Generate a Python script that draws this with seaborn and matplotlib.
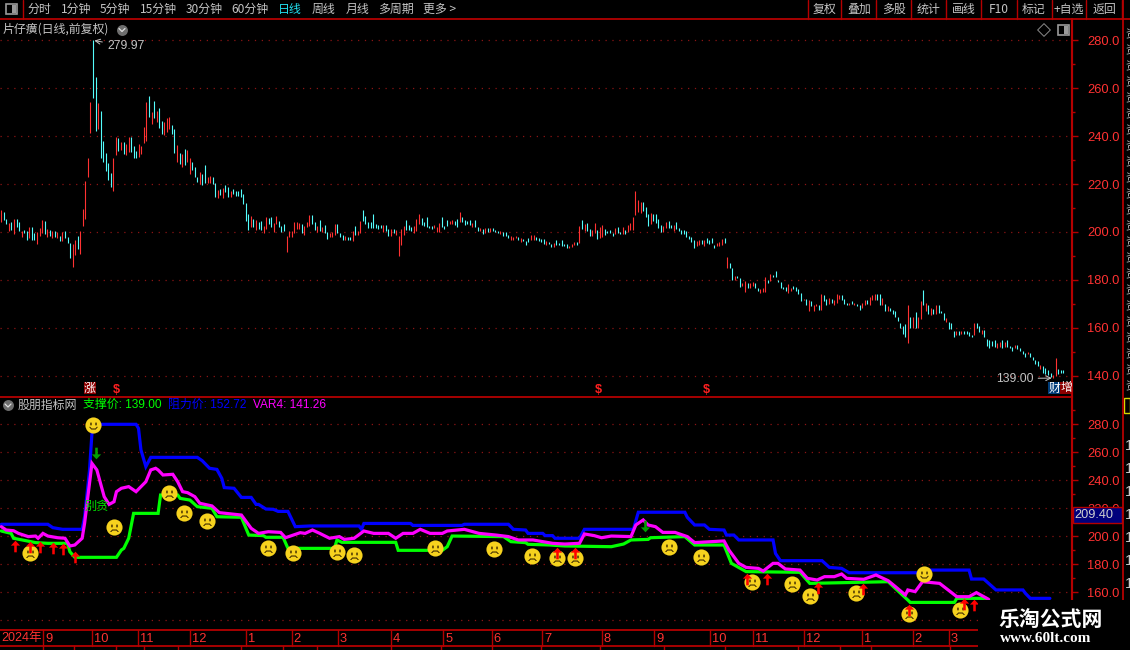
import pandas as pd
import matplotlib
matplotlib.use('Agg')
import matplotlib.pyplot as plt
import seaborn as sns
from matplotlib.path import Path
from matplotlib.patches import Rectangle
from matplotlib.ticker import MultipleLocator, FormatStrFormatter

# Daily bars (high, low, 1 = red day)
bar_high = [
    209, 208.5, 205.5, 203.6, 204, 205.4, 205.5, 204, 200.5, 201,
    200.5, 202, 202.2, 199.5, 199.8, 201.5, 205, 204.7, 201.4, 201,
    200.3, 200.5, 199.8, 198.5, 200.1, 200.5, 198, 195.5, 195, 196.8,
    198.5, 200.5, 209.7, 221.2, 230.7, 254.2, 279.97, 264.5, 253.7, 250.3,
    238, 232.8, 228.8, 224.5, 230.9, 239.6, 239.2, 237.4, 237.4, 236.7,
    239.6, 239.6, 236, 233.8, 236.7, 235.7, 243.8, 254.2, 256.7, 250,
    254.7, 250.6, 251.6, 246.4, 245.7, 247.4, 248, 244.6, 242.8, 236.1,
    232.8, 232.4, 234.6, 234.2, 230.9, 229.2, 227.2, 223, 224.9, 224.2,
    227.8, 223, 223.3, 222.8, 220.3, 217.5, 218, 218.2, 219.6, 218.6,
    217.2, 217.9, 217.1, 217.1, 217.9, 215.8, 212, 207.5, 206.8, 205.4,
    205, 204.3, 204.7, 202.5, 206.4, 205.8, 206.1, 203.6, 206.8, 204.7,
    202.6, 203.3, 198.5, 200.6, 200.6, 204.3, 204.3, 203.8, 203.5, 202.6,
    204.3, 207.2, 207.2, 204.3, 202.6, 205.1, 202.2, 203.1, 200.1, 199.6,
    199.9, 203.5, 203.5, 199.7, 198.9, 198.5, 198.1, 198.1, 200.6, 202.6,
    200.6, 204.7, 209.3, 206.8, 204.3, 204.3, 207.7, 203.5, 203.1, 203.1,
    203.1, 203.1, 201.4, 201.4, 201.4, 201, 198.5, 201.4, 202.6, 205.1,
    203.1, 202.2, 202.6, 205.6, 207.5, 206, 204.3, 206.4, 202.6,
    202.6, 203, 202.2, 203.6, 206.4, 202.6, 205.1, 204.7, 205.1, 204.7,
    205.6, 208.5, 206.4, 205.1, 204.7, 205.1, 203.9, 205.1, 202.2, 201.8,
    201.4, 201.8, 201.8, 201.8, 201.8, 201, 200.6, 200.6, 200.1, 200.1,
    198.9, 198.5, 198.1, 198.5, 198.1, 197.6, 197.2, 196.4, 197.6, 198.9,
    198.9, 198.1, 197.6, 197.2, 197.2, 196.4, 196, 195.1, 195.5, 196.8,
    195.5, 196.8, 195.1, 195.1, 194.3, 195.1, 196, 196, 202.6, 205.1,
    203.5, 203.9, 201.4, 201, 203.9, 201, 202.2, 203, 201.4, 200.6,
    201, 199.7, 201.8, 202.2, 200.1, 202.2, 201, 203, 203.9, 206.4,
    217.3, 213.5, 212.7, 212.7, 210.6, 207.7, 208.1, 207.7, 207.7, 205.6,
    203.1, 202.6, 204.3, 204.7, 203.1, 203.1, 204.3, 201.8, 201, 201,
    200.6, 198.5, 198.1, 196.8, 196.4, 196.8, 196.8, 196.8, 197.6, 196.8,
    197.6, 194.7, 195.5, 196, 197.2, 197.6,
    189.7, 187.2, 185.1, 181.8, 181.8, 180.6, 178.5, 179.7, 178.5, 178.5,
    179.3, 178.5, 176.8, 176, 176.4, 181, 180.1, 182.6, 182.2, 183.5,
    180.1, 179.3, 177.2, 177.2, 178.1, 176.8, 177.6, 177.2, 176, 174.7,
    172.2, 172.2, 171.8, 171, 169.3, 170.1, 169.3, 173.9, 173.5, 172.2,
    172.6, 172.2, 171.8, 173.9, 173.5, 173.5, 172.2, 170.5, 170.5, 171,
    170.5, 170.1, 169.3, 170.5, 171.8, 171.8, 173, 173.5, 173.9, 174.3,
    173.9, 172.6, 170.1, 168.9, 168.4, 167.6, 166.8, 164.7,
    162.2, 160.6, 161.4, 169.7, 164.3, 164.7, 166.4, 164.7, 171, 175.6,
    170.2, 169.3, 168.1, 167.9, 169.3, 169.3, 166.8, 166, 163.9, 162.6,
    162.2, 158.5, 158.5, 158.5, 158.5, 158.5, 158.5, 158.1, 156.8, 161.8,
    161.8, 160.6, 158.9, 158.9, 155.5, 154.7, 154.3, 154.7, 153.5, 153.9,
    154.7, 153.9, 154.7, 152.2, 151.8, 153, 153, 151.4, 150.1, 149.3,
    149.7, 149.3, 147.6, 146.4, 146, 144.3, 143.9, 143, 142.2, 141.3,
    140.1, 147.2, 142.6, 142.2, 142.2,
]
bar_low = [
    204, 205, 203.3, 200.5, 201, 199, 202, 200.3, 197.8, 199.5,
    196.8, 197.5, 196.8, 196.8, 195, 198.5, 199.5, 199, 198, 198.5,
    197.6, 198, 197.5, 196.4, 196.4, 197.6, 195.5, 189.3, 185.5, 190.5,
    193, 191, 202.6, 205.2, 223, 241.4, 256, 242.3, 243.1, 230.9,
    229.3, 225.6, 221.7, 218.9, 217.2, 232.1, 233.9, 234.2, 232.5, 232.1,
    233.4, 233.2, 230.7, 230.7, 231.4, 232.5, 237.3, 238.1, 248.1, 245,
    247.4, 246, 243.2, 240.7, 240.5, 241.8, 242.8, 240.7, 233.1, 229.3,
    228.3, 227.2, 227.9, 229.3, 224.2, 225.8, 223, 221, 219.9, 219.6,
    220.6, 220.3, 220.3, 220, 214.7, 214, 215.4, 214.3, 216.5, 214.7,
    214.7, 215.8, 215.1, 215.1, 214.7, 211.7, 204.7, 201, 202, 202.2,
    200.8, 201.3, 200.8, 199.7, 201.4, 203.3, 202, 200.1, 203.3, 202,
    199.9, 200.6, 191.8, 197.8, 198.1, 199.4, 201.4, 201.3, 199.7, 198.9,
    202.2, 202.6, 203.3, 200.8, 200.1, 200.6, 199.9, 199.7, 197.2, 197.8,
    197.8, 198.6, 199.7, 197.8, 196.8, 196.8, 196.8, 196.8, 196.1, 198.7,
    198.9, 199.7, 204.7, 203.3, 201.8, 201.8, 201.8, 201.5, 201.4, 201.8,
    200.1, 200.6, 198.5, 198.5, 199.7, 198.9, 190.1, 194.7, 198.9, 201,
    201, 200.6, 199.7, 200.6, 203.5, 203.1, 202.6, 202.2, 201.8,
    201.3, 201.5, 199.9, 200.1, 202.2, 201.3, 202.6, 203.5, 203.5, 203,
    202.2, 204.3, 204.3, 203, 203.5, 203, 202.2, 202.2, 200.6, 200.6,
    199.3, 199.7, 200.1, 200.1, 200.6, 200.1, 199.7, 199.3, 198.5, 198.5,
    197.6, 196.8, 196.8, 197.6, 196.8, 196, 196.4, 194.7, 196, 196.8,
    196.8, 196.8, 196.4, 196, 195.1, 194.7, 195.1, 193.9, 193.9, 194.7,
    194.7, 194.3, 194.3, 193.5, 193.5, 193.9, 194.7, 194.7, 195.5, 201.4,
    200.6, 200.6, 198.5, 198.5, 199.7, 197.2, 197.6, 198.1, 198.9, 199.7,
    199.7, 198.5, 199.3, 199.7, 199.3, 199.3, 199.3, 200.1, 201, 201,
    207.2, 208.5, 208.1, 208.9, 206.4, 202.6, 203.3, 204.7, 203.9, 201.8,
    200.1, 200.1, 201.8, 201.8, 201.8, 200.6, 201.4, 200.6, 199.3, 199.3,
    198.1, 197.2, 196, 193.5, 194.3, 194.7, 195.1, 194.3, 195.5, 195.1,
    195.5, 193.5, 194.3, 194.3, 194.7, 195.5,
    185.1, 185.1, 180.1, 180.1, 180.6, 177.2, 177.6, 175.1, 176.8, 176.4,
    177.6, 176.8, 175.5, 174.7, 175.1, 175.1, 178.5, 179.7, 181, 181,
    178.9, 176.8, 176, 175.5, 174.7, 175.5, 176, 175.5, 174.3, 171,
    171.4, 169.3, 166.8, 168.9, 167.2, 168.9, 167.6, 167.6, 171, 169.3,
    170.1, 170.5, 169.7, 170.5, 172.2, 171.4, 170.1, 169.3, 169.7, 170.1,
    169.3, 168.9, 167.6, 168.4, 169.7, 170.1, 169.7, 171.4, 171.8, 171.4,
    169.3, 169.3, 167.2, 167.2, 167.2, 165.9, 164.3, 163,
    159.7, 157.6, 156, 153.5, 160.1, 159.7, 159.7, 159.7, 163.5, 169.3,
    166.8, 165.6, 165.2, 165.6, 165.6, 166, 166, 163.1, 162.6, 159.3,
    159.3, 156, 156.8, 156.8, 157.2, 157.2, 157.6, 156.4, 156, 156.8,
    159.7, 158.1, 157.2, 156, 152.2, 151.4, 152.2, 151.8, 151.4, 151.8,
    151.4, 151.8, 151.8, 151.4, 150.5, 151.4, 151, 150.1, 148.9, 147.6,
    148.9, 147.6, 146.4, 144.7, 143.9, 142.6, 141.3, 140.9, 140.1, 139.3,
    139, 139.7, 140.9, 141.3, 141.3,
]
bar_up = [
    1, 0, 0, 1, 0, 1, 0, 0, 1, 0,
    0, 1, 0, 0, 1, 1, 1, 0, 1, 0,
    1, 0, 1, 0, 1, 0, 0, 0, 1, 1,
    0, 1, 1, 1, 1, 1, 0, 0, 1, 0,
    0, 0, 0, 0, 1, 1, 0, 1, 0, 1,
    1, 0, 0, 0, 1, 1, 1, 1, 0, 1,
    0, 1, 0, 0, 1, 1, 1, 0, 0, 1,
    0, 1, 0, 1, 1, 0, 0, 0, 1, 0,
    0, 1, 1, 0, 0, 1, 0, 1, 0, 0,
    1, 0, 0, 0, 0, 0, 0, 0, 1, 0,
    1, 0, 0, 1, 1, 0, 0, 1, 1, 0,
    0, 0, 1, 1, 1, 1, 1, 1, 0, 1,
    1, 1, 0, 0, 1, 0, 1, 0, 0, 1,
    1, 1, 0, 0, 0, 1, 0, 0, 1, 0,
    1, 1, 0, 0, 0, 0, 0, 0, 0, 0,
    1, 0, 0, 1, 0, 1, 1, 1, 1, 0,
    0, 0, 1, 1, 1, 0, 0, 0, 0,
    0, 1, 1, 1, 0, 0, 0, 1, 1, 0,
    0, 1, 0, 0, 0, 0, 1, 0, 0, 1,
    0, 1, 0, 1, 0, 0, 0, 1, 0, 0,
    0, 1, 1, 1, 0, 1, 0, 0, 0, 1,
    1, 0, 0, 0, 0, 1, 0, 0, 1, 0,
    0, 0, 0, 0, 1, 1, 1, 0, 1, 0,
    1, 0, 0, 1, 1, 0, 1, 1, 0, 0,
    0, 0, 1, 0, 0, 1, 0, 1, 1, 1,
    1, 1, 1, 0, 0, 0, 1, 0, 0, 0,
    0, 1, 1, 0, 0, 1, 0, 0, 0, 0,
    0, 0, 0, 0, 1, 1, 0, 1, 0, 0,
    0, 0, 1, 1, 1, 0,
    1, 0, 0, 1, 0, 0, 1, 1, 0, 1,
    1, 0, 0, 1, 1, 1, 0, 1, 0, 0,
    0, 0, 0, 0, 1, 1, 0, 0, 0, 0,
    1, 0, 1, 0, 1, 1, 0, 1, 0, 0,
    1, 0, 1, 1, 1, 0, 0, 0, 1, 0,
    1, 0, 0, 1, 1, 0, 1, 1, 1, 0,
    0, 1, 0, 1, 0, 0, 0, 0,
    0, 0, 0, 1, 0, 1, 0, 1, 1, 0,
    1, 0, 1, 0, 1, 0, 0, 0, 1, 0,
    0, 0, 1, 0, 1, 0, 0, 0, 0, 1,
    0, 0, 1, 0, 0, 0, 0, 0, 1, 1,
    0, 1, 0, 0, 0, 1, 0, 0, 0, 0,
    1, 0, 0, 0, 0, 1, 0, 0, 0, 0,
    1, 1, 0, 0, 0,
]

# Indicator series in the lower panel, read as (bar, value)
resist_x = [0, 19, 21, 25, 33, 34, 36, 37, 38, 55, 56, 57, 59, 61, 80, 82, 85, 88, 90, 91, 95, 98, 102, 104, 105, 108, 111,
            113, 117, 120, 126, 146, 147, 148, 167, 168, 188, 189, 207, 209, 214, 215, 221, 222, 225, 226, 230, 236, 238,
            258, 260, 279, 280, 283, 287, 289, 295, 296, 299, 301, 315, 316, 318, 335, 338, 343, 346, 374, 376, 395, 396,
            401, 406, 417, 418, 420, 428]
resist_y = [208.4, 208.4, 206, 204.8, 204.8, 213.8, 247, 273.4, 279.8, 279.8, 276.9, 261.5, 249.6, 256.2, 256.2, 253.8,
            248.4, 247.6, 241.2, 234.6, 234.1, 227.6, 227.6, 222.6, 222.6, 219.3, 219.1, 217.6, 217.6, 206.7, 207.2, 207.2,
            204.8, 209, 209, 207.6, 207.6, 208.4, 208.4, 204.8, 204.3, 201.9, 201.9, 200.3, 200.3, 198.4, 198.4, 198.4,
            204.8, 204.8, 217, 217, 213.4, 207.9, 207.9, 204.8, 204.3, 200.7, 200.7, 197.2, 197.2, 187.6, 182.4, 182.4,
            177.6, 176.9, 173.8, 173.8, 175.7, 175.7, 169.3, 169.3, 161.5, 161.5, 159.1, 155.5, 155.5]
support_x = [0, 4, 5, 10, 14, 19, 27, 28, 30, 47, 49, 50, 52, 54, 64, 65, 72, 73, 77, 80, 86, 88, 98, 101, 107, 108, 115,
             117, 136, 137, 139, 161, 162, 180, 182, 184, 205, 208, 214, 215, 224, 230, 249, 254, 257, 264, 265, 279, 283,
             295, 298, 304, 326, 330, 362, 370, 371, 389, 390, 402]
support_y = [203.6, 201.9, 198.4, 196.7, 195.3, 194.8, 194.8, 188.8, 184.8, 184.8, 190, 191.2, 198.4, 216.2, 216.2, 229.3,
             229.3, 226.9, 225.7, 221, 219.8, 213.8, 213.4, 200.7, 200.3, 199.1, 199.1, 191.2, 191.2, 197.2, 195.5, 195.5,
             189.8, 189.8, 192.4, 200, 199.6, 196, 195.3, 194.1, 193.6, 192.9, 192.4, 194.3, 197.2, 197.6, 198.8, 199.6,
             193.6, 193.6, 180.5, 174.6, 174.1, 166.2, 167.4, 154.3, 152.6, 152.6, 155.5, 155.5]
var4_x = [0, 2, 5, 7, 11, 14, 15, 17, 19, 23, 26, 28, 30, 33, 34, 36, 37, 39, 42, 44, 46, 47, 49, 52, 55, 59, 61, 63, 64, 66,
          70, 72, 74, 76, 79, 81, 86, 89, 98, 102, 105, 109, 114, 116, 122, 124, 127, 130, 134, 138, 140, 144, 148, 152,
          158, 161, 164, 168, 171, 175, 180, 182, 189, 195, 202, 207, 211, 217, 225, 230, 236, 238, 242, 245, 249, 257,
          259, 262, 264, 267, 270, 275, 280, 283, 290, 295, 297, 301, 304, 309, 311, 315, 317, 320, 326, 329, 333, 336,
          340, 343, 345, 352, 357, 362, 365, 369, 370, 373, 376, 383, 390, 395, 398, 403]
var4_y = [206.7, 204.3, 203.8, 201.9, 199.6, 200, 198.4, 201.9, 200, 198.8, 198.4, 192.9, 193.6, 198.4, 209.1, 237.6, 251.9,
          247.2, 228.1, 222.6, 224.5, 231.7, 234.1, 235.3, 231.7, 238.8, 247.2, 248.4, 247.2, 243.6, 244.1, 238.8, 231.7,
          231, 228.1, 223.4, 221.5, 216.7, 215, 205.5, 201.9, 203.1, 202.6, 198.8, 202.4, 201.9, 204.3, 201.9, 198.4,
          199.6, 197.6, 198.4, 203.6, 201.9, 201.9, 198.4, 201.9, 201.9, 204.8, 201.9, 201.9, 203.6, 204.8, 201.9, 200.7,
          199.6, 197.2, 197.2, 194.8, 194.3, 194.8, 201.5, 200.3, 198.8, 200, 199.6, 207.9, 211.5, 207.9, 206.7, 202.6,
          202.6, 199.6, 195.3, 196, 196.5, 190, 180.5, 177.6, 176.9, 175, 180.5, 180.5, 176.5, 175.7, 169.8, 168.6, 171,
          171, 172.9, 169.8, 169.1, 172.2, 168.1, 163.8, 157.9, 161.5, 160.3, 167.4, 166.2, 156.7, 156.7, 159.6, 154.8]

# Signal marks on the indicator panel
sad_x = [11.7, 46, 68.3, 74.5, 83.9, 108.8, 119.1, 137, 143.9, 177, 201.1, 216.6, 226.7, 234, 272.4, 285.4, 306.3, 322.9,
         330, 348.7, 370.3, 391.2]
sad_y = [187.6, 206.7, 231, 216.7, 211, 191.5, 188.1, 188.8, 186.7, 191.7, 191, 186, 184.3, 184.3, 192.2, 185.2, 167.4, 166,
         157.4, 159.6, 144.6, 147.2]
smile_x = [37.4, 376.5]
smile_y = [279.3, 173.1]
up_x = [5.4, 11.6, 15.7, 21.1, 25.2, 29.9, 226.7, 234, 304.3, 312.4, 333.2, 351.9, 370.3, 392.9, 397.1]
up_y = [192.9, 192.2, 192.4, 191.7, 190.7, 185.3, 187.9, 188.1, 169.3, 169.3, 163.1, 162.2, 147.2, 151.5, 150.7]
down_x = [38.6, 262.9]
down_y = [259.1, 207.4]

month_x = [17.1, 36.9, 55.7, 77, 99.9, 118.5, 137.3, 158.9, 180.4, 200.2, 220.8, 245, 266.4, 289.4, 306.8, 327.5, 351.3, 372,
           386.7]
month_labels = ['9', '10', '11', '12', '1', '2', '3', '4', '5', '6', '7', '8', '9', '10', '11', '12', '1', '2', '3']

left_menu = ['分时', '1分钟', '5分钟', '15分钟', '30分钟', '60分钟', '日线', '周线', '月线', '多周期', '更多 >']
right_menu = ['复权', '叠加', '多股', '统计', '画线', 'F10', '标记', '+自选', '返回']

CJK = ['Noto Sans CJK SC', 'DejaVu Sans']
NUM = ['Liberation Sans', 'Noto Sans CJK SC']
RED = '#ff3232'
CYAN = '#54fcfc'
LINE_RED = '#b40000'
DOT_RED = '#8c1414'
GREY = '#c4c4c4'
FACE = '#f6d21e'

sns.set_theme(style='dark', rc={'figure.facecolor': 'black', 'axes.facecolor': 'black', 'savefig.facecolor': 'black'})
plt.rcParams['font.family'] = NUM

W, H = 1130, 650
fig = plt.figure(figsize=(W / 100, H / 100), dpi=100)


def px_axes(x0, y0, x1, y1):
    return fig.add_axes([x0 / W, 1 - y1 / H, (x1 - x0) / W, (y1 - y0) / H])


ax_price = px_axes(0, 19, 1072, 397)
ax_ind = px_axes(0, 397, 1072, 630)
ui = fig.add_axes([0, 0, 1, 1], zorder=10)
ui.set_xlim(0, W)
ui.set_ylim(H, 0)
ui.axis('off')
ui.patch.set_alpha(0)

# Price bars
step = (1063.3 - 1.3) / (len(bar_high) - 1)
ax_price.set_xlim(-1.3 / step, (1072 - 1.3) / step)
ax_price.set_ylim(131.1, 288.9)
bars = pd.DataFrame({'high': bar_high, 'low': bar_low, 'up': bar_up})
bars['bar'] = bars.index
for flag, color in [(0, CYAN), (1, RED)]:
    part = bars[bars['up'] == flag]
    ax_price.vlines(part['bar'], part['low'], part['high'], color=color, linewidth=0.8)

# Indicator lines
ax_ind.set_xlim(-1.3 / 2.45, (1072 - 1.3) / 2.45)
ax_ind.set_ylim(132.9, 299.3)
resist = pd.DataFrame({'bar': resist_x, 'value': resist_y})
support = pd.DataFrame({'bar': support_x, 'value': support_y})
var4 = pd.DataFrame({'bar': var4_x, 'value': var4_y})
for frame, color in [(resist, '#0000ff'), (support, '#00ff00'), (var4, '#ff00ff')]:
    sns.lineplot(data=frame, x='bar', y='value', color=color, linewidth=2.3, estimator=None, sort=False,
                 ax=ax_ind, zorder=3, solid_joinstyle='miter')

# Faces
eye_l = Path.unit_rectangle().transformed(matplotlib.transforms.Affine2D().scale(0.16, 0.3).translate(-0.36, -0.32))
eye_r = Path.unit_rectangle().transformed(matplotlib.transforms.Affine2D().scale(0.16, 0.3).translate(0.2, -0.32))
sad_mouth = Path([(-0.5, 0.5), (-0.25, 0.22), (0.25, 0.22), (0.5, 0.5), (0.36, 0.5), (0.2, 0.34), (-0.2, 0.34), (-0.36, 0.5), (-0.5, 0.5)])
smile_mouth = Path([(-0.5, 0.15), (-0.25, 0.45), (0.25, 0.45), (0.5, 0.15), (0.36, 0.15), (0.2, 0.33), (-0.2, 0.33), (-0.36, 0.15), (-0.5, 0.15)])
sad_mark = Path.make_compound_path(eye_l, eye_r, sad_mouth).transformed(matplotlib.transforms.Affine2D().scale(1, -1))
smile_mark = Path.make_compound_path(eye_l, eye_r, smile_mouth).transformed(matplotlib.transforms.Affine2D().scale(1, -1))
face_size = 135
for xs, ys, mark in [(sad_x, sad_y, sad_mark), (smile_x, smile_y, smile_mark)]:
    sns.scatterplot(x=xs, y=ys, color=FACE, s=face_size, linewidth=0, ax=ax_ind, zorder=5)
    sns.scatterplot(x=xs, y=ys, color='#3c2800', marker=mark, s=face_size / 3.2, linewidth=0, ax=ax_ind, zorder=6)

# Arrows
arrow_up = Path([(0, 1), (0.8, 0.15), (0.22, 0.15), (0.22, -1), (-0.22, -1), (-0.22, 0.15), (-0.8, 0.15), (0, 1)])
arrow_down = Path([(0, -1), (0.8, -0.15), (0.22, -0.15), (0.22, 1), (-0.22, 1), (-0.22, -0.15), (-0.8, -0.15), (0, -1)])
sns.scatterplot(x=up_x, y=up_y, color='#ff0000', marker=arrow_up, s=70, linewidth=0, ax=ax_ind, zorder=7)
sns.scatterplot(x=down_x, y=down_y, color='#00a000', marker=arrow_down, s=70, linewidth=0, ax=ax_ind, zorder=7)
ax_ind.text(38.9, 221.4, '别贪', color='#00e000', fontsize=8.8, family=CJK, ha='center', va='center', zorder=8)

# Axes styling
for ax in (ax_price, ax_ind):
    ax.set_xlabel('')
    ax.set_ylabel('')
    ax.set_xticks([])
    ax.yaxis.tick_right()
    ax.yaxis.set_major_locator(MultipleLocator(20))
    ax.yaxis.set_minor_locator(MultipleLocator(10))
    ax.yaxis.set_major_formatter(FormatStrFormatter('%.1f'))
    ax.tick_params(axis='y', which='major', length=4.3, width=1, color=LINE_RED, labelcolor=RED, labelsize=9.3, pad=6.5)
    ax.tick_params(axis='y', which='minor', length=2.2, width=1, color=LINE_RED)
    ax.grid(True, axis='y', which='major', linestyle=(0, (1, 4.5)), color=DOT_RED, linewidth=0.9)
    for name in ('top', 'left', 'bottom'):
        ax.spines[name].set_visible(False)
    ax.spines['right'].set_visible(True)
    ax.spines['right'].set_color(LINE_RED)
    ax.spines['right'].set_linewidth(1.5)
for tick in ax_price.yaxis.get_major_ticks():
    if tick.get_loc() == 280:
        tick.gridline.set_visible(False)

# High and low notes on the price panel
hi_i = bar_high.index(max(bar_high))
lo_i = bar_low.index(min(bar_low))
arrow_note = dict(arrowstyle='->', color=GREY, linewidth=0.7, shrinkA=1, shrinkB=1)
ax_price.annotate('279.97', xy=(hi_i, 279.97), xycoords='data', xytext=(107, 46), textcoords=ui.transData, color=GREY,
                  fontsize=8.8, va='center', ha='left', arrowprops=arrow_note, annotation_clip=False)
ax_price.annotate('139.00', xy=(lo_i, 139.0), xycoords='data', xytext=(996, 378.5), textcoords=ui.transData, color=GREY,
                  fontsize=8.8, va='center', ha='left', arrowprops=arrow_note)

# Frame and rulers
for y in (397, 630, 646):
    ui.plot([0, 1072 if y == 397 else 978], [y, y], color=LINE_RED, linewidth=1.3)
ui.plot([0, 1130], [19, 19], color=LINE_RED, linewidth=1.3)
ui.plot([1123, 1123], [0, 600], color=LINE_RED, linewidth=1.3)
ui.plot([1072, 1072], [19, 600], color=LINE_RED, linewidth=1.5)
ui.plot([23, 23], [0, 19], color=LINE_RED, linewidth=1)

month_px = [1.3 + v * 2.45 for v in month_x]
for x, label in zip(month_px, month_labels):
    ui.plot([x, x], [630, 646], color=LINE_RED, linewidth=1)
    ui.text(x + 2, 638.5, label, color=RED, fontsize=9.3, va='center', ha='left')
ui.text(1, 638.5, '2024年', color=RED, fontsize=9, family=['Liberation Sans', 'Noto Sans CJK SC'], va='center', ha='left')
for x in (43, 74, 116, 144, 178, 241, 283, 317, 391, 441, 492, 541, 600, 664, 725, 798, 840, 871, 950):
    ui.plot([x, x], [646, 650], color=LINE_RED, linewidth=1)

# Toolbar
left_pos = [39.5, 76.5, 115, 158.5, 204, 250, 289.5, 323.5, 357.5, 396, 440]
for x, label in zip(left_pos, left_menu):
    ui.text(x, 9.5, label, color='#22e0f0' if label == '日线' else GREY, fontsize=8.6, family=CJK, ha='center', va='center')
right_edges = [807.5, 841.4, 876.4, 911.3, 946.3, 981.2, 1016.5, 1051.5, 1086.4, 1121.8]
for x in right_edges:
    ui.plot([x, x], [0, 19], color=LINE_RED, linewidth=1)
for a, b, label in zip(right_edges[:-1], right_edges[1:], right_menu):
    ui.text((a + b) / 2, 9.5, label, color=GREY, fontsize=8.6, family=CJK, ha='center', va='center')

# Icons
for x, y in [(11, 8.5), (1063, 29.5)]:
    ui.add_patch(Rectangle((x - 5.5, y - 5), 11, 10, facecolor='black', edgecolor='#9a9a9a', linewidth=1.2))
    ui.add_patch(Rectangle((x + 0.5, y - 4), 4, 8, facecolor='#9a9a9a', edgecolor='none'))
ui.scatter([1044], [30], marker='D', s=42, facecolor='none', edgecolor='#8a8a8a', linewidth=0.7)
for x, y in [(122, 29.5), (8, 405)]:
    ui.scatter([x], [y], s=62, color='#6e6e6e', linewidth=0)
    ui.plot([x - 3, x, x + 3], [y - 1, y + 2, y - 1], color='#e0e0e0', linewidth=0.9)

# Panel headings
ui.text(3, 29.5, '片仔癀(日线,前复权)', color=GREY, fontsize=8.6, family=CJK, va='center', ha='left')
ui.text(18, 405, '股朋指标网', color=GREY, fontsize=8.6, family=CJK, va='center', ha='left')
for x, label, color in [(83, '支撑价: 139.00', '#00ff00'), (167.5, '阻力价: 152.72', '#0000ff'), (253, 'VAR4: 141.26', '#ff00ff')]:
    ui.text(x, 405, label, color=color, fontsize=8.6, family=NUM, va='center', ha='left')

# Event tags
for x0, text, bg in [(83.6, '涨', '#8c0000'), (1048.3, '财', '#003c78'), (1060, '增', '#8c0000')]:
    ui.add_patch(Rectangle((x0, 382), 12, 12, facecolor=bg, edgecolor='none'))
    ui.text(x0 + 6, 388, text, color='white', fontsize=8.6, family=CJK, ha='center', va='center')
for x in (116, 598, 706.6):
    ui.text(x, 390, '$', color='#ff2020', fontsize=9, fontweight='bold', ha='center', va='center')

# Value box on the right ruler
ui.add_patch(Rectangle((1073, 507), 49, 16, facecolor='#00007c', edgecolor=LINE_RED, linewidth=1))
ui.text(1074, 515, '209.40', color='#d0d0d0', fontsize=9.2, va='center', ha='left')

# Clipped list at the far right edge
for y in range(34, 392, 16):
    ui.text(1125, y, '资', color='#b8b8b8', fontsize=8.6, family=CJK, va='center', ha='left')
for y in range(446, 596, 23):
    ui.text(1125, y, '1', color='#c8c8c8', fontsize=11, va='center', ha='left')
ui.add_patch(Rectangle((1124, 398), 6, 15, facecolor='black', edgecolor='#d8d800', linewidth=1))

# Watermark block
ui.add_patch(Rectangle((978, 600), 152, 50, facecolor='black', edgecolor='none', zorder=20))
ui.text(1050.5, 619.5, '乐淘公式网', color='white', fontsize=15, fontweight='bold', family=CJK, ha='center', va='center', zorder=21)
ui.text(1046, 639, 'www.60lt.com', color='white', fontsize=11, fontweight='bold', family='Liberation Serif', ha='center', va='center', zorder=21)

fig.savefig('out.png', dpi=100)
